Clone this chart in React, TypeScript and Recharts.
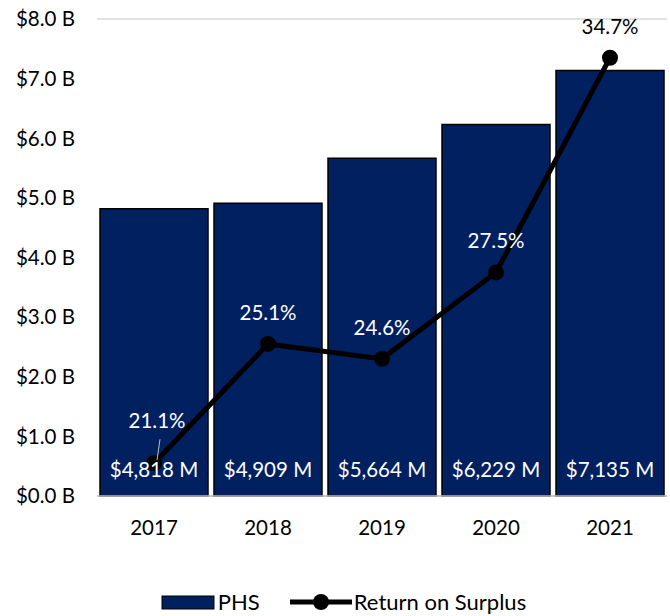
import React from "react";
import {
  ComposedChart,
  Bar,
  Line,
  XAxis,
  YAxis,
  CartesianGrid,
  Legend,
  LabelList,
} from "recharts";

const years = ["2017", "2018", "2019", "2020", "2021"];
const phsMillions = [4818, 4909, 5664, 6229, 7135];
const returnOnSurplus = [21.1, 25.1, 24.6, 27.5, 34.7];
const leftTicks = [0, 1000, 2000, 3000, 4000, 5000, 6000, 7000, 8000];

const data = years.map((y, i) => ({
  year: y,
  phs: phsMillions[i],
  ros: returnOnSurplus[i],
}));

const FONT = "Lato, 'Open Sans', sans-serif";
const FS = 20.5;
const NAVY = "#002060";

const LineLabel = (props: any) => {
  const { x, y, value, index } = props;
  const last = index === data.length - 1;
  const first = index === 0;
  const dy = first ? 43 : 32;
  return (
    <g>
      {first && (
        <line x1={x + 6} y1={y - 24} x2={x + 3} y2={y - 3} stroke="#bfbfbf" strokeWidth={1} />
      )}
      <text
        x={x + (first ? 3 : 0)}
        y={y - dy}
        textAnchor="middle"
        dominantBaseline="central"
        fill={last ? "#000" : "#fff"}
        fontSize={FS}
        fontFamily={FONT}
      >
        {`${value.toFixed(1)}%`}
      </text>
    </g>
  );
};

const LegendContent = () => (
  <div style={{ display: "flex", justifyContent: "center", alignItems: "center", fontFamily: FONT, fontSize: 22, color: "#000", paddingLeft: 20 }}>
    <svg width={54} height={18} style={{ marginRight: 3 }}>
      <rect x={1} y={3} width={52} height={13} fill={NAVY} stroke="#000" strokeWidth={1} />
    </svg>
    <span style={{ marginRight: 30 }}>PHS</span>
    <svg width={62} height={20} style={{ marginRight: 2 }}>
      <line x1={0} y1={10} x2={62} y2={10} stroke="#000" strokeWidth={5} />
      <circle cx={31} cy={10} r={8} fill="#000" />
    </svg>
    <span>Return on Surplus</span>
  </div>
);

export default function App() {
  return (
    <div style={{ position: "absolute", left: 0, top: 0, background: "#fff" }}>
      <ComposedChart
        width={670}
        height={616}
        data={data}
        barCategoryGap={3}
        margin={{ top: 19, right: 3, left: 0, bottom: 0 }}
      >
        <CartesianGrid vertical={false} stroke="#d9d9d9" strokeWidth={1.5} />
        <XAxis
          dataKey="year"
          tickLine={false}
          axisLine={{ stroke: "#bfbfbf", strokeWidth: 1.5 }}
          tick={{ fill: "#000", fontSize: FS, fontFamily: FONT }}
          tickMargin={18}
          height={92}
        />
        <YAxis
          yAxisId="left"
          width={97}
          domain={[0, 8000]}
          ticks={leftTicks}
          tickFormatter={(v: number) => `$${(v / 1000).toFixed(1)} B`}
          axisLine={false}
          tickLine={false}
          tickMargin={16}
          tick={{ fill: "#000", fontSize: FS, fontFamily: FONT }}
          interval={0}
        />
        <YAxis yAxisId="right" orientation="right" domain={[20, 36]} hide />
        <Legend
          verticalAlign="bottom"
          height={28}
          content={<LegendContent />}
          wrapperStyle={{ top: 588 }}
        />
        <Bar
          yAxisId="left"
          dataKey="phs"
          name="PHS"
          fill={NAVY}
          stroke="#000"
          strokeWidth={1.5}
          isAnimationActive={false}
        >
          <LabelList
            dataKey="phs"
            position="insideBottom"
            offset={19}
            fill="#fff"
            fontSize={FS}
            fontFamily={FONT}
            formatter={(v: number) => `$${v.toLocaleString("en-US")} M`}
          />
        </Bar>
        <Line
          yAxisId="right"
          dataKey="ros"
          name="Return on Surplus"
          stroke="#000"
          strokeWidth={5}
          dot={{ r: 8, fill: "#000", stroke: "#000", strokeWidth: 0 }}
          isAnimationActive={false}
        >
          <LabelList dataKey="ros" content={<LineLabel />} />
        </Line>
      </ComposedChart>
    </div>
  );
}
